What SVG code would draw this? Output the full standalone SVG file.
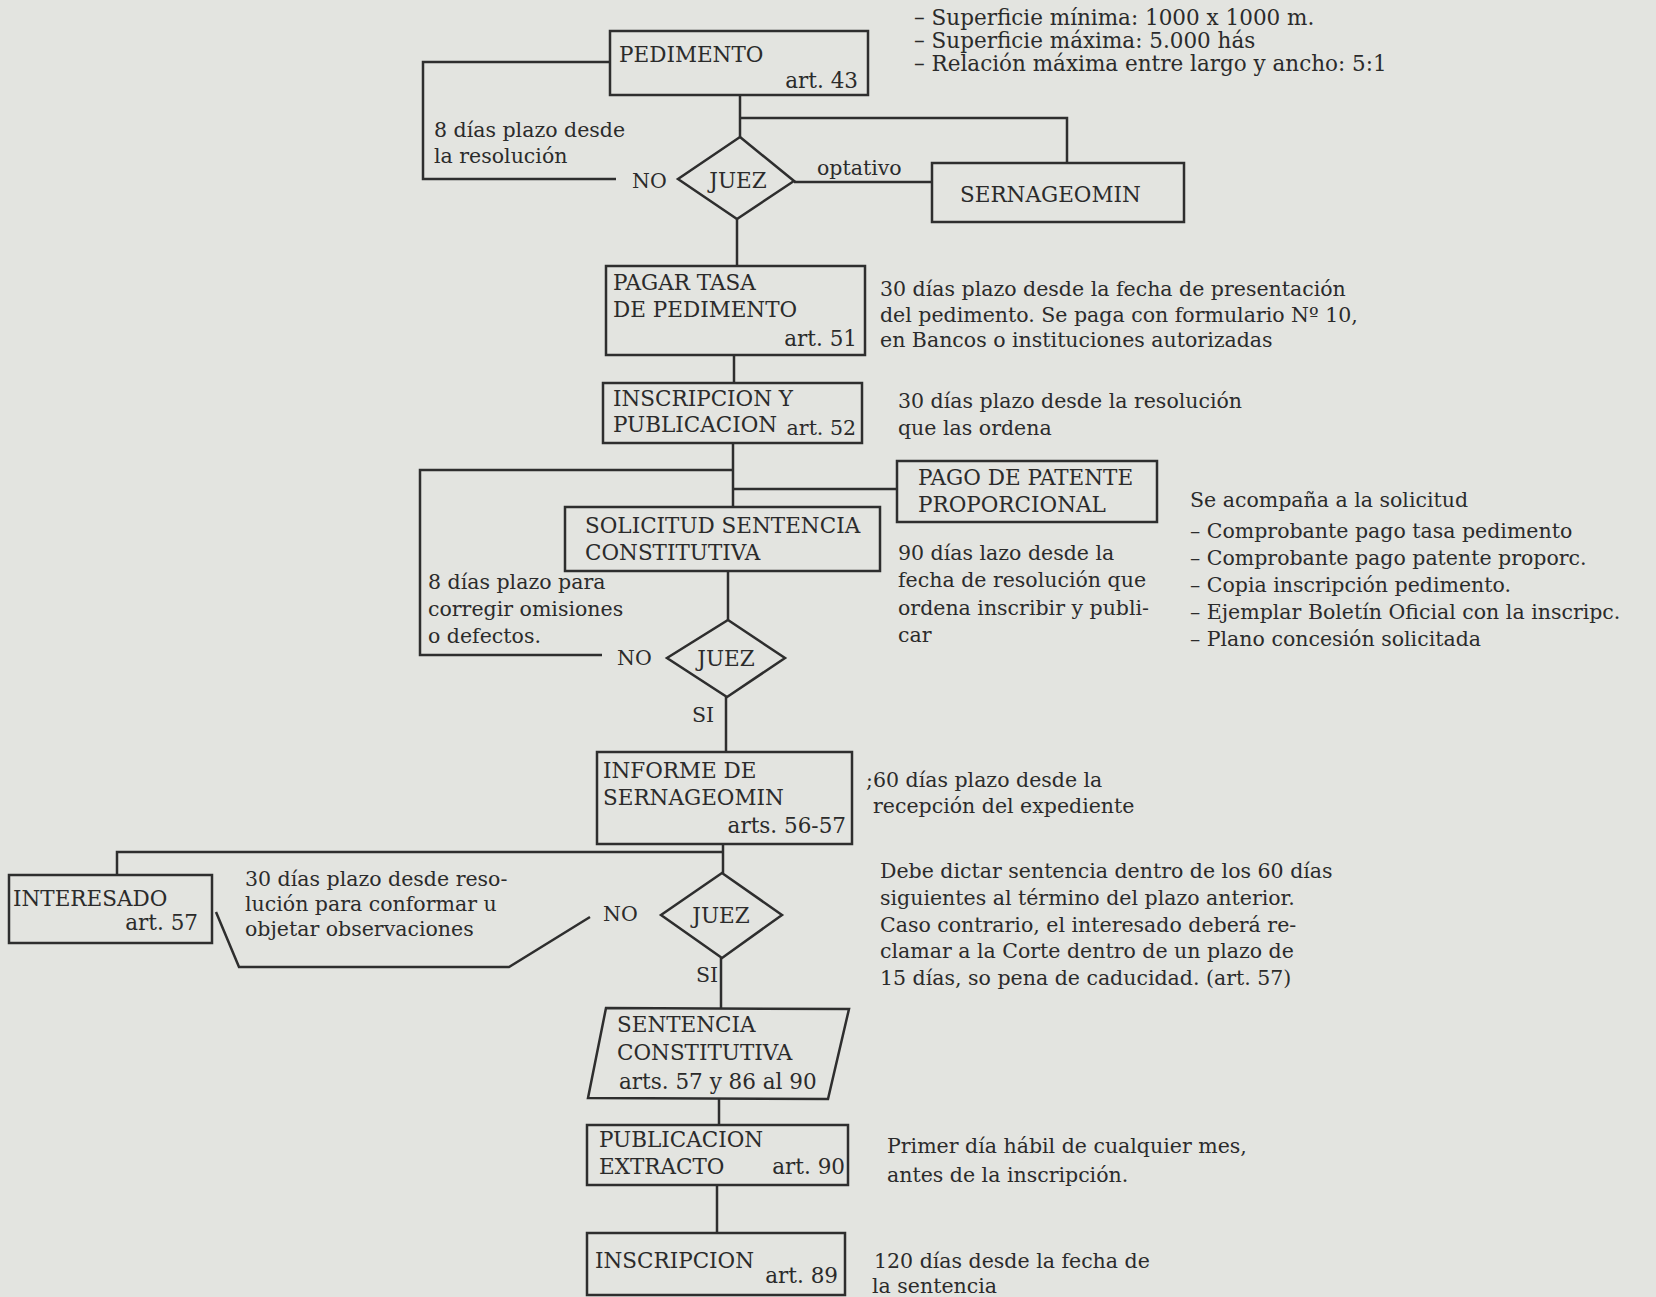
<svg xmlns="http://www.w3.org/2000/svg" width="1656" height="1297" viewBox="0 0 1656 1297">
<style>
.bg{fill:#e3e4e0}
.box{fill:none;stroke:#2e2e2e;stroke-width:2.5}
.ln{fill:none;stroke:#2e2e2e;stroke-width:2.5}
.t{font-family:"DejaVu Serif","Liberation Serif",serif;font-size:20.5px;fill:#2b2b2b}
.lb{font-size:21.5px}
.e{text-anchor:end}
.m{text-anchor:middle}
</style>
<rect class="bg" x="0" y="0" width="1656" height="1297"/>

<g id="connectors">
  <path class="ln" d="M610,62 H423 V179 H616"/>
  <path class="ln" d="M740,95 V137"/>
  <path class="ln" d="M740,118 H1067 V163"/>
  <path class="ln" d="M794,182 H932"/>
  <path class="ln" d="M737,219 V266"/>
  <path class="ln" d="M734,355 V383"/>
  <path class="ln" d="M733,443 V507"/>
  <path class="ln" d="M733,470 H420 V655 H602"/>
  <path class="ln" d="M733,489 H897"/>
  <path class="ln" d="M728,571 V620"/>
  <path class="ln" d="M726,697 V752"/>
  <path class="ln" d="M723,844 V873"/>
  <path class="ln" d="M723,852 H117 V875"/>
  <path class="ln" d="M216,912 L239,967 H509 L590,917"/>
  <path class="ln" d="M721,958 V1008"/>
  <path class="ln" d="M719,1098 V1125"/>
  <path class="ln" d="M717,1185 V1233"/>
</g>

<g id="pedimento">
  <rect class="box" x="610" y="31" width="258" height="64"/>
  <text class="t lb" x="619" y="62">PEDIMENTO</text>
  <text class="t lb e" x="858" y="88">art. 43</text>
</g>
<g id="note-superficie">
  <text class="t" x="914" y="25" style="font-size:21.5px">– Superficie mínima: 1000 x 1000 m.</text>
  <text class="t" x="914" y="48" style="font-size:21.5px">– Superficie máxima: 5.000 hás</text>
  <text class="t" x="914" y="71" style="font-size:21.5px">– Relación máxima entre largo y ancho: 5:1</text>
</g>
<g id="note-8dias-1">
  <text class="t" x="434" y="137">8 días plazo desde</text>
  <text class="t" x="434" y="163">la resolución</text>
</g>
<g id="juez1">
  <polygon class="box" points="740,137 794,181 737,219 678,179"/>
  <text class="t lb m" x="738" y="188">JUEZ</text>
  <text class="t" x="632" y="188">NO</text>
  <text class="t" x="817" y="175">optativo</text>
</g>
<g id="sernageomin">
  <rect class="box" x="932" y="163" width="252" height="59"/>
  <text class="t lb" x="960" y="202">SERNAGEOMIN</text>
</g>

<g id="pagar-tasa">
  <rect class="box" x="606" y="266" width="259" height="89"/>
  <text class="t lb" x="613" y="290">PAGAR TASA</text>
  <text class="t lb" x="613" y="317">DE PEDIMENTO</text>
  <text class="t lb e" x="857" y="346">art. 51</text>
</g>
<g id="note-pagar">
  <text class="t" x="880" y="296">30 días plazo desde la fecha de presentación</text>
  <text class="t" x="880" y="322">del pedimento. Se paga con formulario Nº 10,</text>
  <text class="t" x="880" y="347">en Bancos o instituciones autorizadas</text>
</g>

<g id="inscripcion-publicacion">
  <rect class="box" x="603" y="383" width="259" height="60"/>
  <text class="t lb" x="613" y="406">INSCRIPCION Y</text>
  <text class="t lb" x="613" y="432">PUBLICACION</text>
  <text class="t e" x="856" y="435">art. 52</text>
</g>
<g id="note-inscripcion">
  <text class="t" x="898" y="408">30 días plazo desde la resolución</text>
  <text class="t" x="898" y="435">que las ordena</text>
</g>

<g id="pago-patente">
  <rect class="box" x="897" y="461" width="260" height="61"/>
  <text class="t lb" x="918" y="485">PAGO DE PATENTE</text>
  <text class="t lb" x="918" y="512">PROPORCIONAL</text>
</g>
<g id="solicitud">
  <rect class="box" x="565" y="507" width="315" height="64"/>
  <text class="t lb" x="585" y="533">SOLICITUD SENTENCIA</text>
  <text class="t lb" x="585" y="560">CONSTITUTIVA</text>
</g>
<g id="note-90dias">
  <text class="t" x="898" y="560">90 días lazo desde la</text>
  <text class="t" x="898" y="587">fecha de resolución que</text>
  <text class="t" x="898" y="615">ordena inscribir y publi-</text>
  <text class="t" x="898" y="642">car</text>
</g>
<g id="note-acompana">
  <text class="t" x="1190" y="507">Se acompaña a la solicitud</text>
  <text class="t" x="1190" y="538">– Comprobante pago tasa pedimento</text>
  <text class="t" x="1190" y="565">– Comprobante pago patente proporc.</text>
  <text class="t" x="1190" y="592">– Copia inscripción pedimento.</text>
  <text class="t" x="1190" y="619">– Ejemplar Boletín Oficial con la inscripc.</text>
  <text class="t" x="1190" y="646">– Plano concesión solicitada</text>
</g>
<g id="note-8dias-2">
  <text class="t" x="428" y="589">8 días plazo para</text>
  <text class="t" x="428" y="616">corregir omisiones</text>
  <text class="t" x="428" y="643">o defectos.</text>
</g>
<g id="juez2">
  <polygon class="box" points="728,620 785,658 727,697 667,658"/>
  <text class="t lb m" x="726" y="666">JUEZ</text>
  <text class="t" x="617" y="665">NO</text>
  <text class="t" x="692" y="722">SI</text>
</g>

<g id="informe">
  <rect class="box" x="597" y="752" width="255" height="92"/>
  <text class="t lb" x="603" y="778">INFORME DE</text>
  <text class="t lb" x="603" y="805">SERNAGEOMIN</text>
  <text class="t lb e" x="846" y="833">arts. 56-57</text>
</g>
<g id="note-60dias">
  <text class="t" x="866" y="787">;60 días plazo desde la</text>
  <text class="t" x="873" y="813">recepción del expediente</text>
</g>
<g id="interesado">
  <rect class="box" x="9" y="875" width="203" height="68"/>
  <text class="t lb" x="13" y="906">INTERESADO</text>
  <text class="t lb e" x="198" y="930">art. 57</text>
</g>
<g id="note-30dias">
  <text class="t" x="245" y="886">30 días plazo desde reso-</text>
  <text class="t" x="245" y="911">lución para conformar u</text>
  <text class="t" x="245" y="936">objetar observaciones</text>
</g>
<g id="juez3">
  <polygon class="box" points="722,873 782,915 722,958 661,915"/>
  <text class="t lb m" x="721" y="923">JUEZ</text>
  <text class="t" x="603" y="921">NO</text>
  <text class="t" x="696" y="982">SI</text>
</g>
<g id="note-sentencia">
  <text class="t" x="880" y="878">Debe dictar sentencia dentro de los 60 días</text>
  <text class="t" x="880" y="905">siguientes al término del plazo anterior.</text>
  <text class="t" x="880" y="932">Caso contrario, el interesado deberá re-</text>
  <text class="t" x="880" y="958">clamar a la Corte dentro de un plazo de</text>
  <text class="t" x="880" y="985">15 días, so pena de caducidad. (art. 57)</text>
</g>

<g id="sentencia">
  <polygon class="box" points="606,1008 849,1009 828,1099 588,1098"/>
  <text class="t lb" x="617" y="1032">SENTENCIA</text>
  <text class="t lb" x="617" y="1060">CONSTITUTIVA</text>
  <text class="t lb" x="619" y="1089">arts. 57 y 86 al 90</text>
</g>
<g id="publicacion-extracto">
  <rect class="box" x="587" y="1125" width="261" height="60"/>
  <text class="t lb" x="599" y="1147">PUBLICACION</text>
  <text class="t lb" x="599" y="1174">EXTRACTO</text>
  <text class="t lb e" x="845" y="1174">art. 90</text>
</g>
<g id="note-primer-dia">
  <text class="t" x="887" y="1153">Primer día hábil de cualquier mes,</text>
  <text class="t" x="887" y="1182">antes de la inscripción.</text>
</g>
<g id="inscripcion">
  <rect class="box" x="587" y="1233" width="258" height="62"/>
  <text class="t lb" x="595" y="1268">INSCRIPCION</text>
  <text class="t lb e" x="838" y="1283">art. 89</text>
</g>
<g id="note-120dias">
  <text class="t" x="874" y="1268">120 días desde la fecha de</text>
  <text class="t" x="872" y="1293">la sentencia</text>
</g>
</svg>
